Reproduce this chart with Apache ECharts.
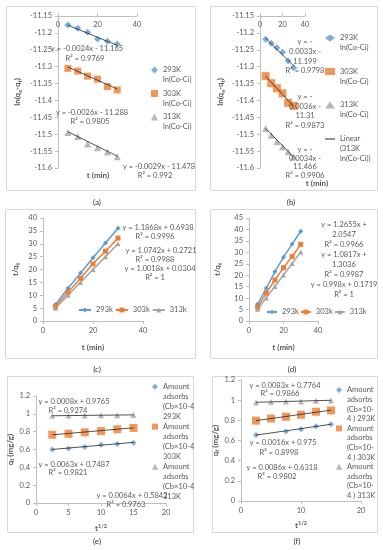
<!DOCTYPE html>
<html><head><meta charset="utf-8">
<script src="https://cdn.jsdelivr.net/npm/echarts@6/dist/echarts.min.js"></script>
<style>html,body{margin:0;padding:0;background:#fff}#c{width:383px;height:550px}</style>
</head><body><div id="c"></div>
<script>
// ---------- data ----------
const tMin = [5, 10, 15, 20, 25, 30];
const a293 = [-11.177, -11.186, -11.198, -11.218, -11.225, -11.233];
const a303 = [-11.305, -11.313, -11.328, -11.337, -11.359, -11.369];
const a313 = [-11.495, -11.507, -11.529, -11.540, -11.553, -11.567];
const aSlope = [-0.0024, -0.0026, -0.0029];
const aIntercept = [-11.165, -11.288, -11.478];
const aEq = ['y = -0.0024x - 11.165', 'y = -0.0026x - 11.288', 'y = -0.0029x - 11.478'];
const aR2 = ['R\u00b2 = 0.9769', 'R\u00b2 = 0.9805', 'R\u00b2 = 0.992'];

const b293 = [-11.219, -11.231, -11.244, -11.257, -11.283, -11.303];
const b303 = [-11.328, -11.349, -11.364, -11.379, -11.407, -11.416];
const b313 = [-11.483, -11.503, -11.522, -11.537, -11.552, -11.566];
const bSlope = [-0.0033, -0.0036, -0.0034];
const bIntercept = [-11.199, -11.31, -11.466];
const bEq = ['y = -\n0.0033x -\n11.199', 'y = -\n0.0036x -\n11.31', 'y = -\n0.0034x -\n11.466'];
const bR2 = ['R\u00b2 = 0.9798', 'R\u00b2 = 0.9873', 'R\u00b2 = 0.9906'];

const c293 = [6.4, 12.7, 18.6, 24.6, 30.3, 36.0];
const c303 = [5.6, 11.2, 16.6, 22.2, 27.1, 32.2];
const c313 = [5.0, 10.0, 15.0, 20.0, 25.0, 30.0];
const cEq = ['y = 1.1868x + 0.6938', 'y = 1.0742x + 0.2721', 'y = 1.0018x + 0.0304'];
const cR2 = ['R\u00b2 = 0.9996', 'R\u00b2 = 0.9988', 'R\u00b2 = 1'];

const d293 = [7.3, 14.3, 21.5, 27.9, 33.6, 39.2];
const d303 = [6.0, 12.2, 17.9, 23.3, 28.2, 33.5];
const d313 = [5.1, 10.1, 15.1, 20.1, 25.1, 30.1];
const dEq = ['y = 1.2655x +\n2.0547', 'y = 1.0817x +\n1.3036', 'y = 0.998x + 0.1719'];
const dR2 = ['R\u00b2 = 0.9966', 'R\u00b2 = 0.9987', 'R\u00b2 = 1'];

const tRoot = [2.5, 5, 7.5, 10, 12.5, 15];
const e293 = [0.600, 0.612, 0.628, 0.652, 0.662, 0.675];
const e303 = [0.766, 0.776, 0.793, 0.806, 0.827, 0.842];
const e313 = [0.978, 0.980, 0.982, 0.983, 0.985, 0.988];
const eSlope = [0.0064, 0.0063, 0.0008];
const eIntercept = [0.5842, 0.7487, 0.9765];
const eEq = ['y = 0.0064x + 0.5842', 'y = 0.0063x + 0.7487', 'y = 0.0008x + 0.9765'];
const eR2 = ['R\u00b2 = 0.9763', 'R\u00b2 = 0.9821', 'R\u00b2 = 0.9274'];

const fRoot293 = [2.5, 7.5, 10, 12.5, 15];
const f293 = [0.655, 0.690, 0.712, 0.741, 0.762];
const f303 = [0.797, 0.818, 0.836, 0.855, 0.885, 0.898];
const f313 = [0.976, 0.984, 0.986, 0.987, 0.993, 0.996];
const fSlope = [0.0086, 0.0083, 0.0016];
const fIntercept = [0.6318, 0.7764, 0.975];
const fEq = ['y = 0.0086x + 0.6318', 'y = 0.0083x + 0.7764', 'y = 0.0016x + 0.975'];
const fR2 = ['R\u00b2 = 0.9802', 'R\u00b2 = 0.9866', 'R\u00b2 = 0.8998'];

const legendA = ['293K\nln(Co-Ci)', '303K\nln(Co-Ci)', '313K\nln(Co-Ci)'];
const legendBLinear = 'Linear\n(313K\nln(Co-Ci))';
const legendC = ['293k', '303k', '313k'];
const legendE = ['Amount\nadsorbs\n(Cb\u00d710-4\n293K', 'Amount\nadsorbs\n(Cb\u00d710-4\n303K', 'Amount\nadsorbs\n(Cb\u00d710-4\n313K'];
const legendF = ['Amount\nadsorbs\n(Cb\u00d710-\n4 ) 293K', 'Amount\nadsorbs\n(Cb\u00d710-\n4 ) 303K', 'Amount\nadsorbs\n(Cb\u00d710-\n4 ) 313K'];

// ---------- style ----------
const FONT = 'Lato, "Open Sans", sans-serif';
const TXT = '#595959';
const AX = '#bfbfbf';
const BLUE = '#5b9bd5', ORANGE = '#ed7d31', GRAY = '#a5a5a5', TREND = '#262626';
const COLORS = [BLUE, ORANGE, GRAY];
const SYMS = ['diamond', 'rect', 'triangle'];

const grids = [
  {left: 58, top: 16, width: 79, height: 152},
  {left: 260, top: 16, width: 45, height: 152},
  {left: 43, top: 218, width: 100, height: 103},
  {left: 249, top: 218, width: 69, height: 103},
  {left: 36, top: 396, width: 130, height: 107},
  {left: 241, top: 380, width: 120, height: 121}
].map(g => Object.assign(g, {containLabel: false, outerBoundsMode: 'none'}));

const sub = {fontSize: 5.5, fontWeight: 'bold', color: TXT, fontFamily: FONT, verticalAlign: 'bottom', lineHeight: 6};
const sup = {fontSize: 5.5, fontWeight: 'bold', color: TXT, fontFamily: FONT, verticalAlign: 'top', lineHeight: 6};
const nameStyle = {color: TXT, fontSize: 8, fontWeight: 'bold', fontFamily: FONT, lineHeight: 11, rich: {s: sub, p: sup}};
const lbl = {color: TXT, fontSize: 7.5, fontFamily: FONT};

function xAx(gi, min, max, interval, o = {}) {
  return Object.assign({
    type: 'value', gridIndex: gi, min, max, interval,
    axisLine: {show: true, onZero: false, lineStyle: {color: AX}},
    axisTick: {show: true, length: 3, lineStyle: {color: AX}},
    axisLabel: Object.assign({margin: 6}, lbl),
    splitLine: {show: false},
    nameLocation: 'middle', nameTextStyle: nameStyle
  }, o);
}
function yAx(gi, min, max, interval, dec, name, nameGap) {
  return {
    type: 'value', gridIndex: gi, min, max, interval,
    axisLine: {show: true, onZero: false, lineStyle: {color: AX}},
    axisTick: {show: true, length: 3, lineStyle: {color: AX}},
    axisLabel: Object.assign({margin: 6, formatter: v => String(+v.toFixed(dec))}, lbl),
    splitLine: {show: false},
    name, nameLocation: 'middle', nameGap, nameRotate: 90, nameTextStyle: nameStyle
  };
}

const xAxis = [
  xAx(0, 0, 40, 20, {position: 'top', axisLabel: Object.assign({margin: 5, inside: true}, lbl)}),
  xAx(1, 0, 40, 20, {position: 'top', axisLabel: Object.assign({margin: 5, inside: true}, lbl)}),
  xAx(2, 0, 40, 20, {name: 't (min)', nameGap: 21}),
  xAx(3, 0, 40, 20, {name: 't (min)', nameGap: 21}),
  xAx(4, 0, 20, 5, {name: 't{p|1/2}', nameGap: 20}),
  xAx(5, 0, 20, 10, {name: 't{p|1/2}', nameGap: 19})
];
const yAxis = [
  yAx(0, -11.6, -11.15, 0.05, 2, 'ln(q{s|e}-q{s|t})', 35),
  yAx(1, -11.6, -11.15, 0.05, 2, 'ln(q{s|e}-q{s|t})', 34),
  yAx(2, 0, 40, 5, 0, 't/q{s|t}', 22),
  yAx(3, 0, 45, 5, 0, 't/q{s|t}', 26),
  yAx(4, 0, 1.2, 0.2, 1, 'q{s|t} (mg/g)', 15),
  yAx(5, 0, 1.2, 0.2, 1, 'q{s|t} (mg/g)', 16)
];

const series = [];
function scatter(gi, name, xs, ys, k, size) {
  series.push({type: 'scatter', name, xAxisIndex: gi, yAxisIndex: gi, symbol: SYMS[k],
    symbolSize: size || 7, itemStyle: {color: COLORS[k]},
    data: xs.map((x, i) => [x, ys[i]]), z: 2, silent: true});
}
function trend(gi, name, x0, x1, s, b) {
  series.push({type: 'line', name, xAxisIndex: gi, yAxisIndex: gi, symbol: 'none',
    lineStyle: {color: TREND, width: 0.8}, itemStyle: {color: TREND},
    data: [[x0, s * x0 + b], [x1, s * x1 + b]], z: 3, silent: true});
}
function line(gi, name, xs, ys, k) {
  series.push({type: 'line', name, xAxisIndex: gi, yAxisIndex: gi, symbol: SYMS[k],
    symbolSize: 5, showSymbol: true, lineStyle: {color: COLORS[k], width: 1.5},
    itemStyle: {color: COLORS[k]}, data: xs.map((x, i) => [x, ys[i]]), silent: true});
}

[a293, a303, a313].forEach((d, k) => { scatter(0, 'a' + k, tMin, d, k); trend(0, 'aT' + k, 5, 30, aSlope[k], aIntercept[k]); });
[b293, b303, b313].forEach((d, k) => { scatter(1, 'b' + k, tMin, d, k, k === 1 ? 8 : 7); trend(1, 'bT' + k, 5, 30, bSlope[k], bIntercept[k]); });
[c293, c303, c313].forEach((d, k) => line(2, 'c' + k, tMin, d, k));
[d293, d303, d313].forEach((d, k) => line(3, 'd' + k, tMin, d, k));
[e293, e303, e313].forEach((d, k) => { scatter(4, 'e' + k, tRoot, d, k, k === 1 ? 8 : 6); trend(4, 'eT' + k, 2.5, 15, eSlope[k], eIntercept[k]); });
scatter(5, 'f0', fRoot293, f293, 0, 6); trend(5, 'fT0', 2.5, 15, fSlope[0], fIntercept[0]);
scatter(5, 'f1', tRoot, f303, 1, 8); trend(5, 'fT1', 2.5, 15, fSlope[1], fIntercept[1]);
scatter(5, 'f2', tRoot, f313, 2, 6); trend(5, 'fT2', 2.5, 15, fSlope[2], fIntercept[2]);

// legend text: leading blank lines so that the icon (centred on the text block) sits on the first real line
const lead = t => '\n'.repeat(t.split('\n').length - 1) + t;
const legTxt = lh => ({color: TXT, fontSize: 7.5, fontFamily: FONT, lineHeight: lh});
const names = {};
legendA.forEach((t, k) => { names['a' + k] = lead(t); names['b' + k] = lead(t); });
names['bT2'] = lead(legendBLinear);
legendC.forEach((t, k) => { names['c' + k] = t; names['d' + k] = t; });
legendE.forEach((t, k) => names['e' + k] = lead(t));
legendF.forEach((t, k) => names['f' + k] = lead(t));
const fmt = n => names[n];
const legend = [
  {left: 151, top: 55, orient: 'vertical', itemGap: -6.5, itemWidth: 7, itemHeight: 7, padding: 0, selectedMode: false,
    data: ['a0', 'a1', 'a2'], formatter: fmt, textStyle: legTxt(10)},
  {left: 325, top: 23, orient: 'vertical', itemGap: 3.5, itemWidth: 10, itemHeight: 7, padding: 0, selectedMode: false,
    data: ['b0', 'b1', 'b2'], formatter: fmt, textStyle: legTxt(10)},
  {left: 325, top: 114, orient: 'vertical', itemWidth: 10, itemHeight: 1, padding: 0, selectedMode: false,
    data: [{name: 'bT2', icon: 'rect'}], formatter: fmt, textStyle: legTxt(10)},
  {left: 78, top: 306, width: 140, orient: 'horizontal', itemGap: 2, itemWidth: 12, itemHeight: 6, padding: 0, selectedMode: false,
    data: ['c0', 'c1', 'c2'], formatter: fmt, textStyle: legTxt(8)},
  {left: 266, top: 308, width: 140, orient: 'horizontal', itemGap: 1, itemWidth: 10, itemHeight: 6, padding: 0, selectedMode: false,
    data: ['d0', 'd1', 'd2'], formatter: fmt, textStyle: legTxt(8)},
  {left: 152, top: 351.7, orient: 'vertical', itemGap: -30, itemWidth: 6, itemHeight: 6, padding: 0, selectedMode: false,
    data: ['e0', 'e1', 'e2'], formatter: fmt, textStyle: legTxt(10)},
  {left: 336, top: 356.4, orient: 'vertical', itemGap: -28.8, itemWidth: 6, itemHeight: 6, padding: 0, selectedMode: false,
    data: ['f0', 'f1', 'f2'], formatter: fmt, textStyle: legTxt(9.6)}
];

// ---------- free text & frames ----------
const graphic = [];
function R(x, y, w, h) {
  graphic.push({type: 'rect', shape: {x: x + 0.5, y: y + 0.5, width: w, height: h}, silent: true,
    style: {fill: 'none', stroke: '#d9d9d9', lineWidth: 1}});
}
function T(text, x, y, o = {}) {
  graphic.push({type: 'text', x, y, silent: true, z: 10, style: {text, fill: o.fill || TXT,
    font: (o.bold ? 'bold ' : '') + (o.size || 7.5) + 'px ' + FONT,
    align: o.align || 'center', verticalAlign: 'middle', lineHeight: o.lh || 9.5}});
}
R(6, 6, 189, 184); R(210, 6, 167, 184);
R(5, 209, 190, 149); R(210, 209, 167, 149);
R(7, 376, 186, 156); R(212, 376, 165, 156);

T('(a)', 97, 202, {size: 8, fill: '#333'});
T('(b)', 291, 202, {size: 8, fill: '#333'});
T('(c)', 97, 369, {size: 8, fill: '#333'});
T('(d)', 292, 369, {size: 8, fill: '#333'});
T('(e)', 97, 541, {size: 8, fill: '#333'});
T('(f)', 297, 541, {size: 8, fill: '#333'});

// (a)
T(aEq[0], 87, 49); T(aR2[0], 85, 58.5);
T(aEq[1], 92, 113); T(aR2[1], 90, 122);
T(aEq[2], 159, 167); T(aR2[2], 155, 175.5);
T('t (min)', 98, 175, {bold: true, size: 8});
// (b)
T(bEq[0] + '\n' + bR2[0], 305, 56.5, {lh: 9.7});
T(bEq[1] + '\n' + bR2[1], 305, 111, {lh: 9.5});
T(bEq[2] + '\n' + bR2[2], 305, 162.5, {lh: 8.6});
T('t (min)', 317, 183, {bold: true, size: 8});
// (c)
T(cEq[0], 158, 228); T(cR2[0], 155, 236.5);
T(cEq[1], 161, 251); T(cR2[1], 155, 259.5);
T(cEq[2], 160, 268.5); T(cR2[2], 155, 277.5);
// (d)
T([dEq[0], dR2[0], dEq[1], dR2[1], dEq[2], dR2[2]].join('\n'), 344, 259.5, {lh: 10.1});
// (e)
T(eEq[2], 74, 402); T(eR2[2], 68, 410.5);
T(eEq[1], 74, 464.5); T(eR2[1], 68, 473);
T(eEq[0], 132, 496); T(eR2[0], 126, 504.5);
// (f)
T(fEq[1], 285, 386); T(fR2[1], 280, 393.5);
T(fEq[2], 283, 442.5); T(fR2[2], 279, 452.5);
T(fEq[0], 282, 467.5); T(fR2[0], 277, 476.5);

const chart = echarts.init(document.getElementById('c'), null, {renderer: 'canvas'});
chart.setOption({
  backgroundColor: '#fff', animation: false,
  textStyle: {fontFamily: FONT},
  grid: grids, xAxis, yAxis, series, legend, graphic
});
</script></body></html>
